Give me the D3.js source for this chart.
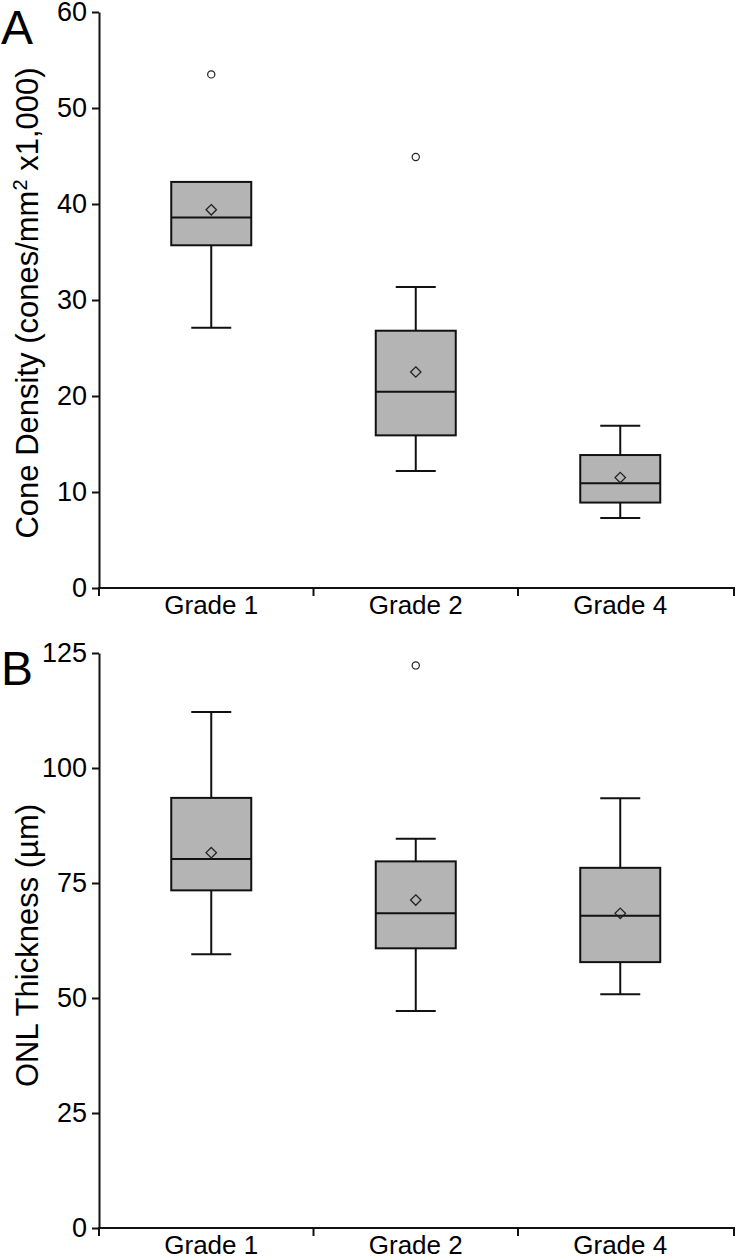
<!DOCTYPE html>
<html>
<head>
<meta charset="utf-8">
<script src="https://cdn.jsdelivr.net/npm/d3@7"></script>
<style>
  html, body { margin: 0; padding: 0; background: #fff; }
  svg { display: block; }
  text { font-family: "Liberation Sans", Arial, Helvetica, sans-serif; fill: #000; }
</style>
</head>
<body>
<svg id="chart" width="736" height="1260"></svg>
<script>
// ---------- data ----------
const categories = ["Grade 1", "Grade 2", "Grade 4"];

// Panel A: cone density (cones/mm² x1,000)
const coneMin      = [27.1, 12.2, 7.3];
const coneQ1       = [35.7, 15.9, 8.9];
const coneMedian   = [38.6, 20.45, 10.9];
const coneQ3       = [42.3, 26.8, 13.85];
const coneMax      = [42.3, 31.35, 16.9];
const coneMean     = [39.4, 22.5, 11.5];
const coneOutliers = [[53.5], [44.9], []];
const coneTicks    = [0, 10, 20, 30, 40, 50, 60];

// Panel B: ONL thickness (µm)
const onlMin      = [59.5, 47.2, 50.8];
const onlQ1       = [73.4, 60.8, 57.8];
const onlMedian   = [80.2, 68.4, 67.9];
const onlQ3       = [93.5, 79.7, 78.3];
const onlMax      = [112.2, 84.6, 93.4];
const onlMean     = [81.6, 71.3, 68.4];
const onlOutliers = [[], [122.3], []];
const onlTicks    = [0, 25, 50, 75, 100, 125];

// ---------- drawing ----------
const svg = d3.select("#chart");
const axisX0 = 99, axisX1 = 734;
const x = d3.scaleBand().domain(categories).range([109, 722.5]).padding(0);

function panel(opts) {
  const g = svg.append("g");
  const y = d3.scaleLinear().domain(opts.domain).range([opts.y0, opts.y1]);
  const rows = categories.map((c, i) => ({
    c, min: opts.min[i], q1: opts.q1[i], med: opts.med[i], q3: opts.q3[i],
    max: opts.max[i], mean: opts.mean[i], out: opts.out[i]
  }));

  // y axis
  const ya = g.append("g").attr("transform", `translate(${axisX0},0)`)
    .call(d3.axisLeft(y).tickValues(opts.ticks).tickSize(7).tickSizeOuter(0).tickPadding(5));
  ya.select(".domain").attr("stroke", "#111").attr("stroke-width", 2);
  ya.selectAll(".tick line").attr("stroke", "#111").attr("stroke-width", 2);
  ya.selectAll(".tick text").attr("font-size", 27).attr("fill", "#000")
    .attr("font-family", "Liberation Sans, Arial, sans-serif");

  // x axis line with ticks at band boundaries and ends
  const ax = g.append("g");
  ax.append("line").attr("x1", axisX0 - 1).attr("x2", axisX1 + 1)
    .attr("y1", opts.y0).attr("y2", opts.y0).attr("stroke", "#111").attr("stroke-width", 2);
  const tickXs = [axisX0, x(categories[1]), x(categories[2]), axisX1];
  ax.selectAll("line.xt").data(tickXs).join("line").attr("class", "xt")
    .attr("x1", d => d).attr("x2", d => d)
    .attr("y1", opts.y0).attr("y2", opts.y0 + 8)
    .attr("stroke", "#111").attr("stroke-width", 2);
  const xl = g.append("g").attr("transform", `translate(0,${opts.y0})`)
    .call(d3.axisBottom(x).tickSize(0).tickPadding(8));
  xl.select(".domain").remove();
  xl.selectAll(".tick text").attr("font-size", 26).attr("fill", "#000")
    .attr("dy", "0.71em").attr("font-family", "Liberation Sans, Arial, sans-serif");

  const bw = 80, cw = 40;
  const box = g.selectAll("g.box").data(rows).join("g").attr("class", "box")
    .attr("transform", d => `translate(${x(d.c) + x.bandwidth() / 2},0)`);

  // whiskers
  box.append("line").attr("x1", 0).attr("x2", 0)
    .attr("y1", d => y(d.q3)).attr("y2", d => y(d.max))
    .attr("stroke", "#111").attr("stroke-width", 2);
  box.append("line").attr("x1", 0).attr("x2", 0)
    .attr("y1", d => y(d.q1)).attr("y2", d => y(d.min))
    .attr("stroke", "#111").attr("stroke-width", 2);
  box.filter(d => d.max > d.q3).append("line").attr("x1", -cw / 2).attr("x2", cw / 2)
    .attr("y1", d => y(d.max)).attr("y2", d => y(d.max))
    .attr("stroke", "#111").attr("stroke-width", 2);
  box.filter(d => d.min < d.q1).append("line").attr("x1", -cw / 2).attr("x2", cw / 2)
    .attr("y1", d => y(d.min)).attr("y2", d => y(d.min))
    .attr("stroke", "#111").attr("stroke-width", 2);

  // box
  box.append("rect").attr("x", -bw / 2).attr("width", bw)
    .attr("y", d => y(d.q3)).attr("height", d => y(d.q1) - y(d.q3))
    .attr("fill", "#b4b4b4").attr("stroke", "#111").attr("stroke-width", 2);
  // median
  box.append("line").attr("x1", -bw / 2).attr("x2", bw / 2)
    .attr("y1", d => y(d.med)).attr("y2", d => y(d.med))
    .attr("stroke", "#111").attr("stroke-width", 2);
  // mean diamond
  box.append("path")
    .attr("d", d => { const cy = y(d.mean), s = 5.2; return `M0,${cy - s}L${s},${cy}L0,${cy + s}L${-s},${cy}Z`; })
    .attr("fill", "none").attr("stroke", "#222").attr("stroke-width", 1.3);
  // outliers
  box.selectAll("circle").data(d => d.out).join("circle")
    .attr("cx", 0).attr("cy", d => y(d)).attr("r", 3.6)
    .attr("fill", "#fff").attr("stroke", "#222").attr("stroke-width", 1.2);

  // y title
  const t = g.append("text")
    .attr("transform", `translate(38,${(opts.y0 + opts.y1) / 2 + opts.titleShift}) rotate(-90)`)
    .attr("text-anchor", "middle").attr("font-size", 31);
  opts.title(t);

  // panel letter
  g.append("text").attr("x", 1).attr("y", opts.letterY)
    .attr("font-size", 48).text(opts.letter);
}

panel({
  domain: [0, 60], y0: 588, y1: 12, ticks: coneTicks,
  min: coneMin, q1: coneQ1, med: coneMedian, q3: coneQ3, max: coneMax,
  mean: coneMean, out: coneOutliers, titleShift: 3,
  letter: "A", letterY: 44,
  title: t => {
    t.append("tspan").text("Cone Density (cones/mm");
    t.append("tspan").attr("font-size", 20).attr("dy", -11).text("2");
    t.append("tspan").attr("dy", 11).text(" x1,000)");
  }
});

panel({
  domain: [0, 125], y0: 1228, y1: 653, ticks: onlTicks,
  min: onlMin, q1: onlQ1, med: onlMedian, q3: onlQ3, max: onlMax,
  mean: onlMean, out: onlOutliers, titleShift: 5,
  letter: "B", letterY: 685,
  title: t => { t.text("ONL Thickness (µm)"); }
});
</script>
</body>
</html>
